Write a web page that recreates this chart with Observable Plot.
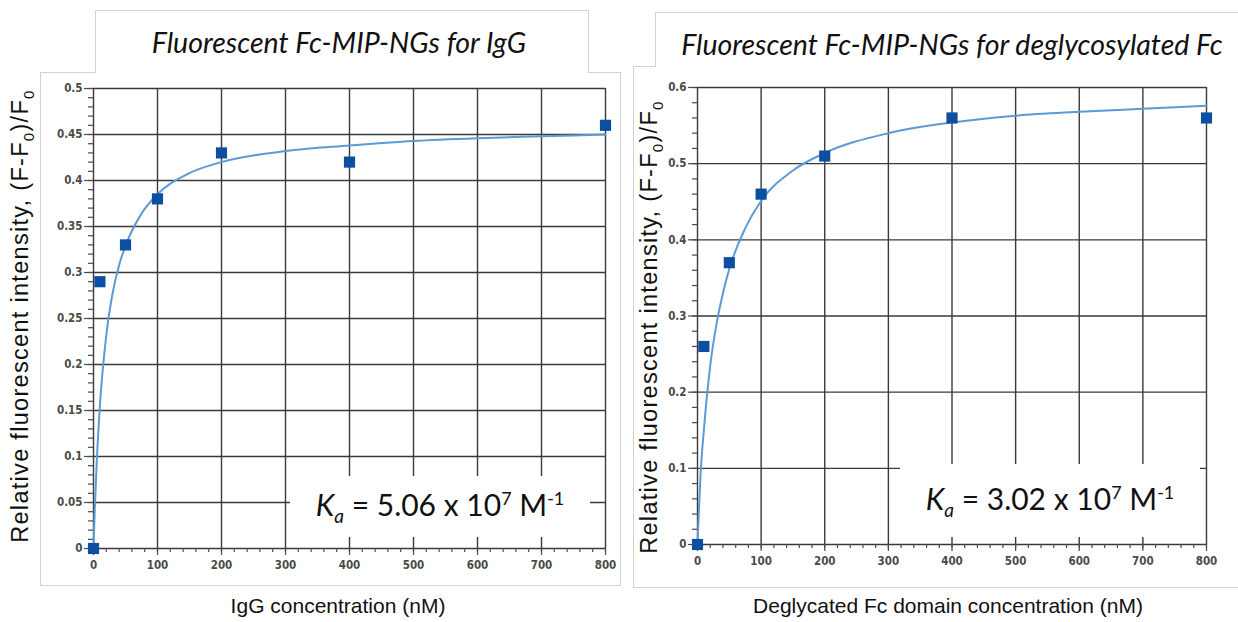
<!DOCTYPE html>
<html><head><meta charset="utf-8">
<script src="https://cdn.jsdelivr.net/npm/d3@7"></script>
<script src="https://cdn.jsdelivr.net/npm/@observablehq/plot@0.6"></script>
<style>
body{margin:0;background:#fff;}
#wrap{position:relative;width:1238px;height:622px;overflow:hidden;background:#fff;}
.frame{position:absolute;border:1px solid #d2d2d2;box-sizing:border-box;}
.tbox{position:absolute;border:1px solid #d2d2d2;border-bottom:none;background:#fff;box-sizing:border-box;}
.title{position:absolute;font-family:Lato,"Open Sans",sans-serif;font-style:italic;font-size:28.5px;color:#111;white-space:nowrap;transform:translateX(-50%);}
.xlab{position:absolute;font-family:"Liberation Sans",Arial,sans-serif;font-size:21px;color:#111;white-space:nowrap;transform:translateX(-50%);}
.ylab{position:absolute;font-family:"Liberation Sans",Arial,sans-serif;font-size:23.5px;letter-spacing:1.3px;color:#111;white-space:nowrap;transform:translate(-50%,-50%) rotate(-90deg);}
.ylab sub{font-size:15px;}
.ka{position:absolute;background:#fff;font-family:Lato,"Open Sans",sans-serif;font-size:30px;color:#111;display:flex;align-items:center;justify-content:center;white-space:nowrap;}
.ka sub{font-size:19px;font-style:italic;}
.ka sup{font-size:18px;}
.plot{position:absolute;}
</style></head>
<body><div id="wrap">
<div class="frame" style="left:40px;top:72px;width:581px;height:514px;"></div>
<div class="tbox" style="left:95px;top:10px;width:494px;height:63px;"></div>
<div class="frame" style="left:633px;top:66px;width:620px;height:522px;"></div>
<div class="tbox" style="left:655px;top:12px;width:600px;height:55px;"></div>
<div id="left" class="plot" style="left:40px;top:72px;"></div>
<div id="right" class="plot" style="left:633px;top:66px;"></div>
<div class="title" style="left:339px;top:25px;">Fluorescent Fc-MIP-NGs for IgG</div>
<div class="title" style="left:952px;top:27px;">Fluorescent Fc-MIP-NGs for deglycosylated Fc</div>
<div class="xlab" style="left:338px;top:594px;">IgG concentration (nM)</div>
<div class="xlab" style="left:948px;top:594px;">Deglycated Fc domain concentration (nM)</div>
<div class="ylab" style="left:22px;top:316px;">Relative fluorescent intensity, (F-F<sub>0</sub>)/F<sub>0</sub></div>
<div class="ylab" style="left:651px;top:327px;">Relative fluorescent intensity, (F-F<sub>0</sub>)/F<sub>0</sub></div>
<div class="ka" style="left:290px;top:476px;width:300px;height:61px;"><span><i>K<sub>a</sub></i> = 5.06 x 10<sup>7</sup> M<sup>-1</sup></span></div>
<div class="ka" style="left:900px;top:464px;width:300px;height:73px;"><span><i>K<sub>a</sub></i> = 3.02 x 10<sup>7</sup> M<sup>-1</sup></span></div>
</div>
<script>
// ---- data ----
const xTicks = [0, 100, 200, 300, 400, 500, 600, 700, 800];
const yTicksIgG = [0, 0.05, 0.1, 0.15, 0.2, 0.25, 0.3, 0.35, 0.4, 0.45, 0.5];
const yTicksFc = [0, 0.1, 0.2, 0.3, 0.4, 0.5, 0.6];

const concIgG = [0, 10, 50, 100, 200, 400, 800];
const respIgG = [0, 0.29, 0.33, 0.38, 0.43, 0.42, 0.46];
const concFc = [0, 10, 50, 100, 200, 400, 800];
const respFc = [0, 0.26, 0.37, 0.46, 0.51, 0.56, 0.56];

// fitted curves
const fitXIgG = [0, 2, 5, 10, 20, 30, 40, 50, 75, 100, 150, 200, 300, 400, 500, 600, 700, 800];
const fitYIgG = [0, 0.043, 0.093, 0.155, 0.232, 0.278, 0.308, 0.329, 0.364, 0.385, 0.408, 0.420, 0.432, 0.438, 0.443, 0.446, 0.448, 0.450];
const fitXFc = [0, 2, 5, 10, 20, 30, 40, 50, 75, 100, 150, 200, 300, 400, 500, 600, 700, 800];
const fitYFc = [0, 0.04, 0.095, 0.15, 0.235, 0.29, 0.33, 0.362, 0.415, 0.451, 0.491, 0.514, 0.540, 0.554, 0.563, 0.568, 0.572, 0.576];

const fmt = d => String(+d.toFixed(2));

function panel(o) {
  const pts = o.conc.map((c, i) => ({x: c, y: o.resp[i]}));
  const fit = o.fitX.map((c, i) => ({x: c, y: o.fitY[i]}));
  const gridStyle = {stroke: "#3a3a3a", strokeOpacity: 1, strokeWidth: 1.4};
  return Plot.plot({
    width: o.width, height: o.height,
    marginLeft: o.ml, marginRight: o.mr, marginTop: o.mt, marginBottom: o.mb,
    style: {background: "transparent", fontFamily: "'DejaVu Sans Condensed','DejaVu Sans',sans-serif", fontSize: "11.5px", fontWeight: "bold", color: "#4a4a4a", overflow: "visible"},
    x: {domain: [0, 800], label: null},
    y: {domain: [0, o.yMax], label: null},
    marks: [
      Plot.gridX(xTicks, gridStyle),
      Plot.gridY(o.yTicks, gridStyle),
      Plot.axisX(d3.range(0, 801, 20), {tickSize: 4, text: null, label: null, strokeWidth: 1.2}),
      Plot.axisY(d3.range(0, o.yMax + 1e-9, o.yMinor), {tickSize: 5, text: null, label: null, strokeWidth: 1.2}),
      Plot.axisX(xTicks, {tickSize: 7, tickPadding: 5, label: null, strokeWidth: 1.2}),
      Plot.axisY(o.yTicks, {tickSize: 9, tickPadding: 2, tickFormat: fmt, label: null, strokeWidth: 1.2}),
      Plot.line(fit, {x: "x", y: "y", stroke: "#5b9bd5", strokeWidth: 2, curve: "monotone-x"}),
      Plot.dot(pts, {x: "x", y: "y", symbol: "square", fill: "#0c4ea2", stroke: "none", r: 6.3})
    ]
  });
}

document.getElementById("left").append(panel({
  conc: concIgG, resp: respIgG, fitX: fitXIgG, fitY: fitYIgG,
  yTicks: yTicksIgG, yMax: 0.5, yMinor: 0.01,
  width: 580, height: 513, ml: 53, mr: 15, mt: 16, mb: 37
}));
document.getElementById("right").append(panel({
  conc: concFc, resp: respFc, fitX: fitXFc, fitY: fitYFc,
  yTicks: yTicksFc, yMax: 0.6, yMinor: 0.02,
  width: 605, height: 522, ml: 64, mr: 32, mt: 21, mb: 44
}));
</script>
</body></html>
